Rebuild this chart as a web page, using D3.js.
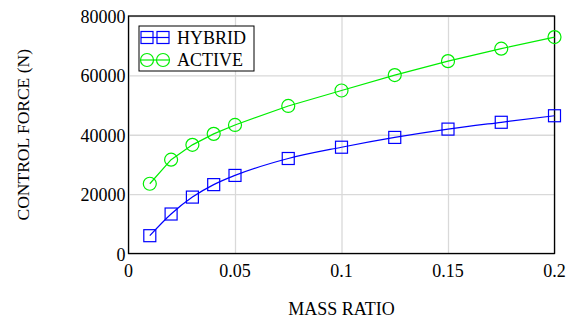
<!DOCTYPE html>
<html>
<head>
<meta charset="utf-8">
<script src="https://cdn.jsdelivr.net/npm/d3@7"></script>
<style>
body { margin: 0; background: #fff; }
svg text { font-family: "Liberation Serif", serif; fill: #000; }
</style>
</head>
<body>
<svg width="570" height="318"></svg>
<script>
var svg = d3.select('svg');
var width = +svg.attr('width');
var height = +svg.attr('height');

var padding = {t: 16, r: 15.5, b: 64.5, l: 128.5};
var chartWidth = width - padding.l - padding.r;
var chartHeight = height - padding.t - padding.b;

// data
var massRatio = [0.01, 0.02, 0.03, 0.04, 0.05, 0.075, 0.1, 0.125, 0.15, 0.175, 0.2];
var hybrid = [6000, 13300, 19000, 23200, 26300, 32000, 35800, 39100, 41900, 44200, 46400];
var active = [23500, 31600, 36600, 40300, 43300, 49700, 54900, 60100, 64800, 69000, 72900];
var xTicks = [0, 0.05, 0.1, 0.15, 0.2];
var yTicks = [0, 20000, 40000, 60000, 80000];
var seriesNames = ['HYBRID', 'ACTIVE'];
var seriesColors = ['#0000ff', '#00ee00'];

var xScale = d3.scaleLinear().domain([0, 0.2]).range([0, chartWidth]);
var yScale = d3.scaleLinear().domain([0, 80000]).range([chartHeight, 0]);

var chartG = svg.append('g').attr('transform', 'translate(' + [padding.l, padding.t] + ')');

// grid
chartG.append('g')
    .call(d3.axisBottom(xScale).tickValues(xTicks).tickSize(chartHeight).tickFormat(''))
    .call(function(g) { g.select('.domain').remove(); })
    .selectAll('line').attr('stroke', '#d9d9d9').attr('stroke-width', 1.3);
chartG.append('g')
    .call(d3.axisLeft(yScale).tickValues(yTicks).tickSize(-chartWidth).tickFormat(''))
    .call(function(g) { g.select('.domain').remove(); })
    .selectAll('line').attr('stroke', '#d9d9d9').attr('stroke-width', 1.3);

// tick labels, drawn as plain text at scale positions
chartG.selectAll('.xtick').data(xTicks).enter().append('text')
    .attr('class', 'xtick')
    .attr('x', function(d) { return xScale(d); })
    .attr('y', chartHeight + 23)
    .attr('text-anchor', 'middle')
    .style('font-family', 'Liberation Serif')
    .style('font-size', '18px')
    .text(function(d) { return d; });

chartG.selectAll('.ytick').data(yTicks).enter().append('text')
    .attr('class', 'ytick')
    .attr('x', -3)
    .attr('y', function(d) { return yScale(d) + 7; })
    .attr('text-anchor', 'end')
    .style('font-family', 'Liberation Serif')
    .style('font-size', '18px')
    .text(function(d) { return d; });

// frame
chartG.append('rect')
    .attr('width', chartWidth).attr('height', chartHeight)
    .attr('fill', 'none').attr('stroke', '#000').attr('stroke-width', 1.3);

var hybridLine = d3.line()
    .x(function(d, i) { return xScale(massRatio[i]); })
    .y(function(d) { return yScale(d); })
    .curve(d3.curveMonotoneX);
var activeLine = d3.line()
    .x(function(d, i) { return xScale(massRatio[i]); })
    .y(function(d) { return yScale(d); });

chartG.append('path').datum(hybrid).attr('d', hybridLine)
    .attr('fill', 'none').attr('stroke', seriesColors[0]).attr('stroke-width', 1.2);
chartG.append('path').datum(active).attr('d', activeLine)
    .attr('fill', 'none').attr('stroke', seriesColors[1]).attr('stroke-width', 1.2);

chartG.selectAll('.sq').data(hybrid).enter().append('rect')
    .attr('class', 'sq')
    .attr('x', function(d, i) { return xScale(massRatio[i]) - 6; })
    .attr('y', function(d) { return yScale(d) - 6; })
    .attr('width', 12).attr('height', 12)
    .attr('fill', 'none').attr('stroke', seriesColors[0]).attr('stroke-width', 1.2);

chartG.selectAll('.ci').data(active).enter().append('circle')
    .attr('class', 'ci')
    .attr('cx', function(d, i) { return xScale(massRatio[i]); })
    .attr('cy', function(d) { return yScale(d); })
    .attr('r', 6.5)
    .attr('fill', 'none').attr('stroke', seriesColors[1]).attr('stroke-width', 1.2);

// legend
var legend = svg.append('g').attr('transform', 'translate(139,26)');
legend.append('rect').attr('width', 115).attr('height', 45)
    .attr('fill', '#fff').attr('stroke', '#000').attr('stroke-width', 1);
seriesNames.forEach(function(name, i) {
    var y = 11.5 + i * 22.5;
    var row = legend.append('g').attr('transform', 'translate(0,' + y + ')');
    row.append('line').attr('x1', 2).attr('x2', 30).attr('y1', 0).attr('y2', 0)
        .attr('stroke', seriesColors[i]).attr('stroke-width', 1.2);
    [8, 24].forEach(function(cx) {
        if (i === 0) {
            row.append('rect').attr('x', cx - 6).attr('y', -6).attr('width', 12).attr('height', 12)
                .attr('fill', 'none').attr('stroke', seriesColors[i]).attr('stroke-width', 1.2);
        } else {
            row.append('circle').attr('cx', cx).attr('cy', 0).attr('r', 6.5)
                .attr('fill', 'none').attr('stroke', seriesColors[i]).attr('stroke-width', 1.2);
        }
    });
    row.append('text').attr('x', 38).attr('y', 6).attr('font-size', 18).text(name);
});

// axis titles
svg.append('text')
    .attr('x', padding.l + chartWidth / 2).attr('y', 315)
    .attr('text-anchor', 'middle').attr('font-size', 18)
    .text('MASS RATIO');
svg.append('text')
    .attr('transform', 'translate(29,' + (padding.t + chartHeight / 2) + ') rotate(-90)')
    .attr('text-anchor', 'middle').attr('font-size', 17.5)
    .text('CONTROL FORCE (N)');
</script>
</body>
</html>
